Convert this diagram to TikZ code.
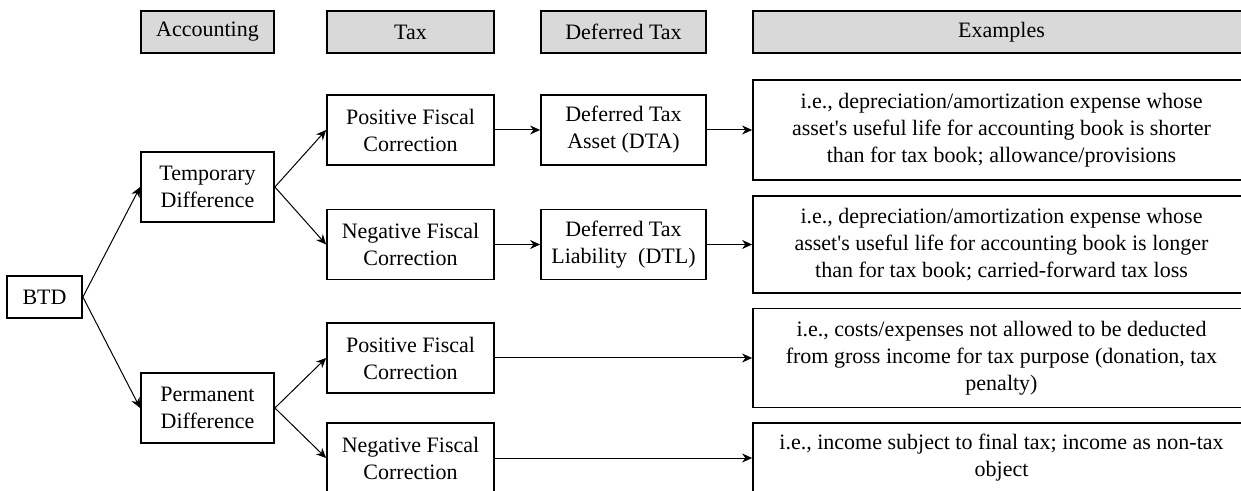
\documentclass[tikz,border=0pt]{standalone}
\usepackage{fontspec}
\setmainfont{Liberation Serif}
\usetikzlibrary{arrows.meta}

\begin{document}
\begin{tikzpicture}[x=0.5pt,y=-0.5pt,>={Stealth[length=5pt,width=4.5pt]},
  box/.style={draw, line width=0.9pt, align=center, inner sep=0pt, font=\fontsize{11}{13.5}\selectfont},
  hdr/.style={box, fill=black!15, minimum height=21pt},
  cell/.style={box, minimum height=35pt},
  link/.style={->, line width=0.5pt}]
\useasboundingbox (0,0) rectangle (1241,491);
\clip (0,0) rectangle (1241,491);

\node[hdr, minimum width=66.5pt] (hacc) at (207.5,32) {Accounting};
\node[hdr, minimum width=83.5pt] (htax) at (410.5,32) {Tax};
\node[hdr, minimum width=82.5pt] (hdef) at (623.5,32) {Deferred Tax};
\node[hdr, minimum width=248.5pt] (hex) at (1001.5,32) {Examples};

\node[box, minimum width=37.5pt, minimum height=21pt] (btd) at (44.5,297) {BTD};

\node[cell, minimum width=66.5pt] (temp) at (207.5,187) {Temporary\\Difference};
\node[cell, minimum width=66.5pt] (perm) at (207.5,408) {Permanent\\Difference};

\node[cell, minimum width=83.5pt] (pos1) at (410.5,130) {Positive Fiscal\\Correction};
\node[cell, minimum width=83.5pt] (neg1) at (410.5,244.5) {Negative Fiscal\\Correction};
\node[cell, minimum width=83.5pt] (pos2) at (410.5,358) {Positive Fiscal\\Correction};
\node[cell, minimum width=83.5pt] (neg2) at (410.5,458) {Negative Fiscal\\Correction};

\node[cell, minimum width=82.5pt] (dta) at (623.5,130) {Deferred Tax\\Asset (DTA)};
\node[cell, minimum width=82.5pt] (dtl) at (623.5,244.5) {Deferred Tax\\Liability\ \ (DTL)};

\node[box, minimum width=248.5pt, minimum height=50pt] (ex1) at (1001.5,130)
  {i.e., depreciation/amortization expense whose\\asset\textquotesingle s useful life for accounting book is shorter\\than for tax book; allowance/provisions};
\node[box, minimum width=248.5pt, minimum height=48.5pt] (ex2) at (1001.5,244.5)
  {i.e., depreciation/amortization expense whose\\asset\textquotesingle s useful life for accounting book is longer\\than for tax book; carried-forward tax loss};
\node[box, minimum width=248.5pt, minimum height=49.5pt] (ex3) at (1001.5,358)
  {i.e., costs/expenses not allowed to be deducted\\from gross income for tax purpose (donation, tax\\penalty)};
\node[box, minimum width=248.5pt, minimum height=35pt] (ex4) at (1001.5,458)
  {i.e., income subject to final tax; income as non-tax\\object};

\draw[link] (btd.east) -- (temp.west);
\draw[link] (btd.east) -- (perm.west);
\draw[link] (temp.east) -- (pos1.west);
\draw[link] (temp.east) -- (neg1.west);
\draw[link] (perm.east) -- (pos2.west);
\draw[link] (perm.east) -- (neg2.west);
\draw[link] (pos1) -- (dta);
\draw[link] (neg1) -- (dtl);
\draw[link] (dta.east) -- (ex1.west);
\draw[link] (dtl.east) -- (ex2.west);
\draw[link] (pos2.east) -- (ex3.west);
\draw[link] (neg2.east) -- (ex4.west);
\end{tikzpicture}
\end{document}
